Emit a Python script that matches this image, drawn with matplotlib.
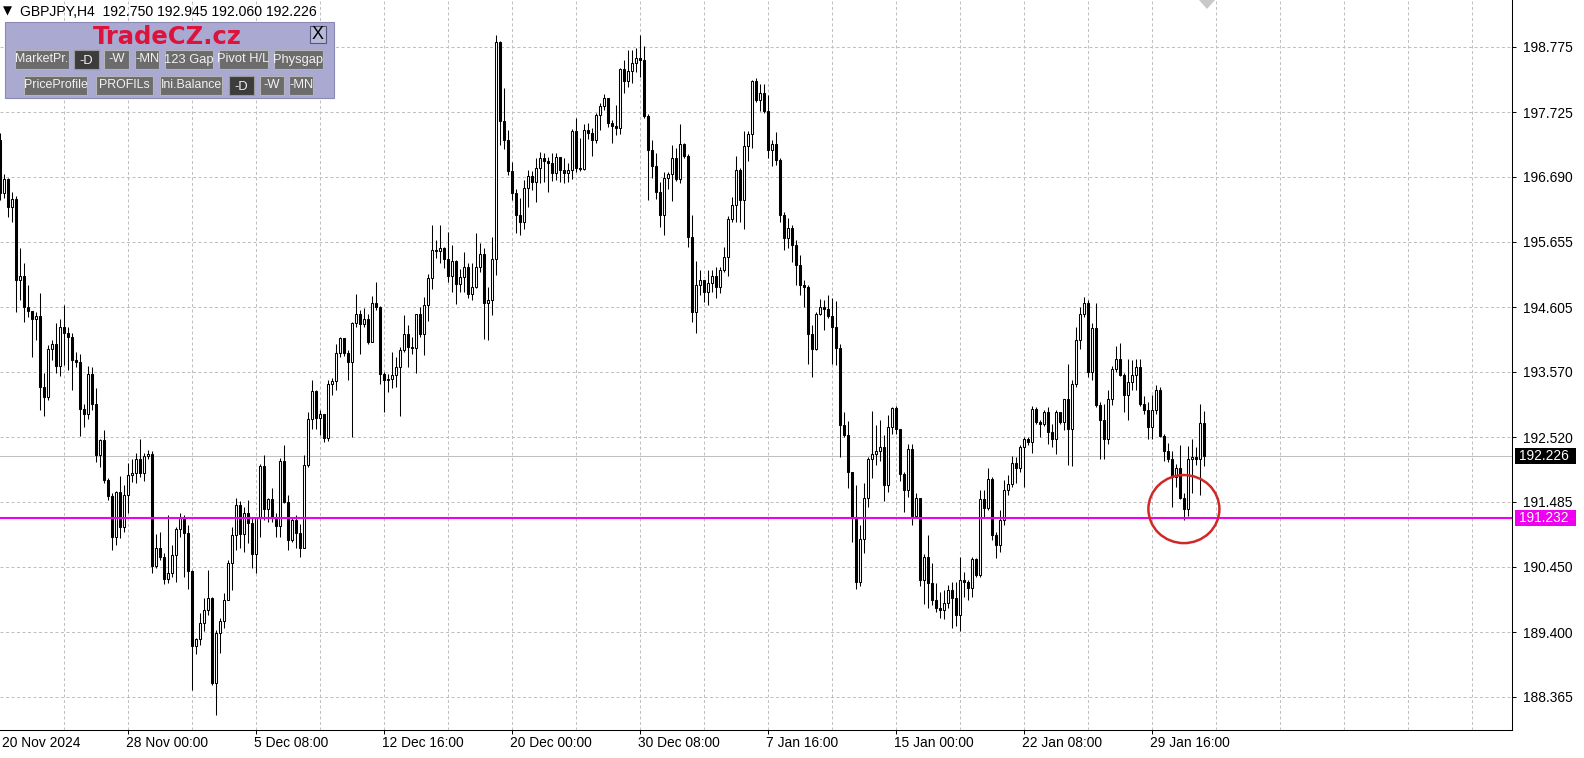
import numpy as np
import matplotlib.pyplot as plt
from matplotlib.patches import Rectangle, Ellipse, Polygon
from matplotlib.transforms import blended_transform_factory

plt.rcParams['font.family'] = ['Liberation Sans', 'DejaVu Sans']

symbol = 'GBPJPY,H4'

# H4 candles, oldest first (open of each bar = previous close)
first_open = 197.28
close = [
    196.43,
    196.65, 196.21, 196.33, 195.04, 195.10, 194.60, 194.55, 194.42, 194.46, 193.32,
    193.16, 193.93, 194.01, 193.66, 194.29, 194.19, 194.13, 193.75, 193.73, 192.98,
    192.89, 193.53, 193.05, 192.24, 192.47, 191.84, 191.58, 190.93, 191.65, 191.09,
    191.60, 191.92, 191.94, 192.17, 191.95, 192.22, 192.26, 190.46, 190.74, 190.60,
    190.25, 190.35, 190.63, 191.05, 191.22, 190.99, 190.38, 189.17, 189.29, 189.54,
    189.75, 189.94, 188.59, 189.38, 189.58, 189.92, 190.50, 190.96, 191.44, 190.97,
    191.30, 191.14, 190.65, 191.22, 192.06, 191.37, 191.53, 191.23, 191.10, 192.14,
    191.49, 190.88, 191.20, 190.98, 190.75, 192.07, 192.81, 193.26, 192.83, 192.89,
    192.51, 193.37, 193.42, 193.87, 194.11, 193.87, 193.73, 194.35, 194.50, 194.33,
    194.41, 194.05, 194.67, 194.61, 193.53, 193.43, 193.46, 193.52, 193.65, 193.92,
    194.17, 193.97, 193.95, 194.49, 194.17, 194.64, 195.07, 195.52, 195.51, 195.55,
    195.37, 195.11, 195.34, 194.97, 195.08, 195.24, 194.81, 194.93, 195.25, 195.45,
    194.67, 194.72, 195.37, 198.85, 197.59, 197.28, 196.78, 196.44, 196.08, 195.96,
    196.51, 196.71, 196.61, 196.83, 197.00, 196.94, 196.91, 196.76, 197.01, 196.80,
    196.75, 196.80, 197.42, 196.84, 196.82, 197.44, 197.40, 197.28, 197.68, 197.83,
    197.95, 197.55, 197.51, 197.48, 198.42, 198.23, 198.39, 198.51, 198.60, 198.56,
    197.67, 197.12, 196.87, 196.45, 196.08, 196.67, 196.73, 197.00, 196.66, 197.21,
    197.03, 195.72, 194.53, 194.96, 195.04, 194.85, 194.99, 195.11, 194.93, 195.20,
    195.41, 196.02, 196.24, 196.80, 196.32, 197.19, 197.37, 198.22, 197.92, 198.03,
    197.75, 197.12, 197.21, 196.96, 196.08, 195.71, 195.87, 195.60, 195.28, 194.96,
    194.92, 194.17, 193.93, 194.50, 194.60, 194.57, 194.47, 194.29, 193.95, 192.72,
    192.55, 191.96, 191.22, 190.21, 190.89, 191.54, 192.17, 192.26, 192.30, 192.36,
    191.76, 192.69, 192.99, 192.65, 191.93, 191.68, 192.34, 191.26, 191.55, 190.23,
    190.61, 190.19, 189.91, 189.79, 189.75, 189.87, 190.07, 189.95, 189.67, 190.23,
    190.21, 190.11, 190.57, 190.31, 191.53, 191.39, 191.85, 190.96, 190.80, 191.20,
    191.68, 191.77, 192.11, 192.03, 192.37, 192.49, 192.45, 192.98, 192.77, 192.73,
    192.93, 192.61, 192.50, 192.92, 192.77, 193.13, 192.65, 193.37, 194.07, 194.50,
    194.67, 193.57, 194.27, 193.04, 192.80, 192.49, 193.13, 193.61, 193.78, 193.52,
    193.20, 193.41, 193.52, 193.65, 193.06, 192.95, 192.69, 192.95, 193.28, 192.54,
    192.30, 192.18, 191.89, 192.02, 191.54, 191.37, 192.18, 192.21, 192.17, 192.750,
    192.226,
]
high = [
    197.39,
    196.74, 196.68, 196.45, 196.38, 195.55, 195.31, 194.96, 194.53, 194.52, 194.83,
    193.55, 194.00, 194.08, 194.35, 194.41, 194.64, 194.29, 194.19, 193.89, 193.86,
    193.06, 193.66, 193.65, 193.31, 192.49, 192.64, 191.86, 191.62, 191.66, 191.90,
    191.76, 192.11, 192.17, 192.27, 192.49, 192.27, 192.32, 192.30, 190.97, 191.01,
    190.66, 191.28, 190.80, 191.09, 191.31, 191.28, 191.12, 190.39, 189.30, 189.71,
    189.94, 190.39, 189.97, 189.43, 189.62, 190.02, 190.55, 191.09, 191.54, 191.50,
    191.41, 191.52, 191.22, 191.25, 192.10, 192.24, 191.55, 191.71, 191.30, 192.19,
    192.40, 191.60, 191.22, 191.28, 191.13, 192.24, 192.93, 193.44, 193.28, 192.96,
    192.90, 193.44, 193.47, 194.01, 194.13, 193.97, 193.91, 194.37, 194.81, 194.56,
    194.59, 194.49, 194.78, 195.01, 194.62, 193.57, 193.53, 193.89, 193.80, 193.97,
    194.48, 194.32, 194.13, 194.50, 194.60, 194.76, 195.13, 195.92, 195.68, 195.92,
    195.57, 195.81, 195.60, 195.36, 195.21, 195.48, 195.31, 195.31, 195.79, 195.63,
    195.55, 194.93, 195.73, 198.96, 198.86, 198.11, 197.44, 196.93, 196.50, 196.35,
    196.64, 196.80, 196.78, 197.00, 197.09, 197.08, 197.01, 197.07, 197.07, 197.00,
    196.99, 196.91, 197.46, 197.63, 197.32, 197.53, 197.56, 197.47, 197.71, 197.87,
    198.01, 197.89, 197.60, 197.84, 198.43, 198.56, 198.72, 198.72, 198.75, 198.96,
    198.78, 197.69, 197.28, 197.07, 196.61, 196.77, 196.77, 197.20, 197.16, 197.53,
    197.23, 197.05, 196.08, 195.34, 195.20, 195.04, 195.20, 195.20, 195.25, 195.25,
    195.57, 196.07, 196.37, 197.03, 196.83, 197.42, 197.42, 198.24, 198.27, 198.17,
    198.17, 198.00, 197.28, 197.41, 196.99, 196.13, 196.03, 195.92, 195.68, 195.44,
    195.04, 194.96, 194.32, 194.53, 194.73, 194.72, 194.80, 194.75, 194.70, 194.01,
    192.93, 192.78, 191.97, 191.76, 191.12, 191.78, 192.21, 192.94, 192.71, 192.80,
    192.56, 192.88, 193.01, 193.02, 192.66, 191.97, 192.42, 192.41, 191.62, 191.44,
    190.65, 190.96, 190.51, 190.19, 190.05, 190.07, 190.15, 190.20, 190.21, 190.61,
    190.37, 190.23, 190.61, 190.59, 191.68, 191.68, 192.03, 191.89, 191.00, 191.36,
    191.84, 191.92, 192.22, 192.21, 192.40, 192.53, 192.53, 193.02, 193.01, 192.80,
    192.95, 193.01, 192.74, 192.96, 192.93, 193.14, 193.70, 193.44, 194.28, 194.61,
    194.76, 194.72, 194.35, 194.67, 193.09, 193.05, 193.28, 193.66, 193.98, 194.03,
    193.55, 193.78, 193.76, 193.77, 193.77, 193.18, 193.09, 193.20, 193.36, 193.32,
    192.58, 192.43, 192.30, 192.10, 192.40, 191.62, 192.38, 192.50, 192.36, 193.05,
    192.945,
]
low = [
    196.32,
    196.36, 196.04, 195.97, 194.53, 194.72, 194.37, 194.45, 193.80, 194.07, 192.96,
    192.86, 193.12, 193.76, 193.55, 193.50, 193.68, 193.59, 193.27, 193.65, 192.54,
    192.69, 192.81, 192.96, 192.13, 192.05, 191.78, 191.52, 190.72, 190.80, 190.90,
    191.01, 191.30, 191.81, 191.78, 191.89, 191.82, 192.18, 190.34, 190.42, 190.55,
    190.17, 190.18, 190.29, 190.21, 190.93, 190.28, 190.09, 188.48, 189.05, 189.19,
    189.41, 189.67, 188.55, 188.07, 189.07, 189.46, 190.06, 190.07, 190.72, 190.74,
    190.69, 190.82, 190.43, 190.34, 190.93, 191.20, 191.16, 191.16, 190.93, 190.93,
    191.46, 190.72, 190.85, 190.74, 190.61, 190.74, 192.05, 192.66, 192.66, 192.56,
    192.45, 192.46, 193.19, 193.27, 193.80, 193.82, 193.43, 192.53, 194.29, 193.85,
    194.29, 194.01, 194.04, 194.56, 193.38, 192.93, 193.25, 193.31, 193.33, 192.86,
    193.89, 193.65, 193.85, 193.55, 194.13, 193.84, 194.39, 194.89, 195.39, 195.31,
    195.23, 195.01, 194.84, 194.66, 194.85, 194.85, 194.75, 194.72, 194.91, 195.17,
    194.09, 194.08, 194.48, 195.12, 197.20, 197.14, 196.72, 196.32, 195.79, 195.76,
    195.86, 196.20, 196.48, 196.28, 196.59, 196.61, 196.45, 196.62, 196.64, 196.61,
    196.60, 196.61, 196.66, 196.77, 196.78, 196.80, 197.30, 197.03, 197.24, 197.44,
    197.76, 197.49, 197.23, 197.36, 197.37, 198.03, 198.13, 198.20, 198.37, 198.29,
    197.63, 196.32, 196.67, 196.34, 195.89, 195.76, 196.50, 196.30, 196.62, 196.59,
    196.99, 195.56, 194.37, 194.19, 194.80, 194.69, 194.64, 194.85, 194.75, 194.83,
    195.16, 195.11, 195.96, 195.97, 195.96, 195.86, 196.94, 197.16, 197.89, 197.75,
    197.72, 196.99, 196.87, 196.88, 195.97, 195.52, 195.55, 195.33, 194.96, 194.80,
    194.60, 193.69, 193.49, 193.92, 194.48, 194.24, 194.43, 193.70, 193.68, 192.21,
    192.53, 191.71, 190.85, 190.09, 190.14, 190.66, 191.41, 191.87, 192.07, 192.14,
    191.50, 191.65, 192.57, 192.57, 191.82, 191.32, 191.57, 191.12, 191.23, 190.14,
    189.85, 189.79, 189.83, 189.72, 189.63, 189.61, 189.78, 189.46, 189.49, 189.42,
    189.97, 189.91, 189.97, 190.29, 190.29, 191.25, 191.36, 190.88, 190.59, 190.68,
    191.12, 191.60, 191.73, 191.78, 191.97, 191.72, 192.40, 192.27, 192.74, 192.53,
    192.70, 192.41, 192.37, 192.26, 192.74, 192.64, 192.08, 192.06, 193.33, 193.94,
    194.45, 193.49, 193.44, 193.01, 192.17, 192.18, 192.42, 193.04, 193.57, 193.50,
    192.93, 192.79, 193.27, 193.28, 193.02, 192.90, 192.50, 192.50, 192.90, 192.52,
    192.14, 192.13, 191.41, 191.73, 191.53, 191.20, 191.26, 191.62, 192.08, 191.60,
    192.060,
]

level = 191.232  # magenta horizontal line
price_ticks = [198.775, 197.725, 196.690, 195.655, 194.605, 193.570,
               192.520, 191.485, 190.450, 189.400, 188.365]
date_labels = ['20 Nov 2024', '28 Nov 00:00', '5 Dec 08:00', '12 Dec 16:00',
               '20 Dec 00:00', '30 Dec 08:00', '7 Jan 16:00', '15 Jan 00:00',
               '22 Jan 08:00', '29 Jan 16:00']
date_bars = [0.75, 32, 64, 96, 128, 160, 192, 224, 256, 288]
buttons_row1 = ['MarketPr.', '-D', '-W', '-MN', '123 Gap', 'Pivot H/L', 'Physgap']
buttons_row2 = ['PriceProfile', 'PROFILs', 'Ini.Balance', '-D', '-W', '-MN']
active_row1 = ['-D']
active_row2 = ['-D']

W, H = 1584, 758
fig = plt.figure(figsize=(W / 100, H / 100), dpi=100)
fig.patch.set_facecolor('white')


def fx(px):
    return px / W


def fy(py):
    return 1 - py / H


ax_bottom = 729.5
ax = fig.add_axes([0, fy(ax_bottom), 1512 / W, ax_bottom / H])

c = np.array(close)
o = np.r_[first_open, c[:-1]]
hi = np.maximum(np.array(high), np.maximum(o, c))
lo = np.minimum(np.array(low), np.minimum(o, c))
x = np.arange(len(c))

grid_c = '#c0c0c0'
for p in price_ticks:
    ax.axhline(p, color=grid_c, lw=0.72, ls=(0, (3, 2.5)), zorder=0)
for k in range(16, 378, 16):
    ax.axvline(k, color=grid_c, lw=0.72, ls=(0, (3, 2.5)), zorder=0)

ax.axhline(c[-1], color='#c0c0c0', lw=0.75, zorder=1)

ax.vlines(x, lo, hi, color='black', lw=0.75, zorder=2)
up = c >= o
bot = np.minimum(o, c)
ht = np.maximum(np.abs(c - o), 0.004)
ax.bar(x[up], ht[up], bottom=bot[up], width=0.5, facecolor='white',
       edgecolor='black', lw=0.75, zorder=3)
ax.bar(x[~up], ht[~up], bottom=bot[~up], width=0.5, facecolor='black',
       edgecolor='black', lw=0.75, zorder=3)

ax.axhline(level, color='#f000f0', lw=1.5, zorder=4)

# red circle around the touch of the level
ax.add_patch(Ellipse((296.1, 191.37), 17.75, 1.09, fill=False,
                     edgecolor='#d02828', lw=1.8, zorder=5))

ax.set_xlim(0.125, 378.125)
ax.set_ylim(187.84, 199.523)

for s in ['left', 'top']:
    ax.spines[s].set_visible(False)
for s in ['right', 'bottom']:
    ax.spines[s].set_linewidth(0.75)

ax.yaxis.tick_right()
ax.set_yticks(price_ticks)
ax.set_yticklabels([f'{p:.3f}' for p in price_ticks])
ax.tick_params(axis='y', direction='out', length=3, width=0.7, pad=5,
               labelsize=9.9, colors='black')
ax.set_xticks(date_bars[1:])
ax.set_xticklabels([])
ax.tick_params(axis='x', direction='out', length=3, width=0.7)

trans_xd = blended_transform_factory(ax.transData, ax.transAxes)
for lab, b in zip(date_labels, date_bars):
    ax.text(b - 0.25, -(743 - ax_bottom) / ax_bottom, lab, transform=trans_xd,
            ha='left', va='center', fontsize=9.9, clip_on=False)

# price boxes on the right scale
trans_ad = blended_transform_factory(ax.transAxes, ax.transData)
dh = 8 * 0.016015
for val, col in [(c[-1], 'black'), (level, '#f000f0')]:
    ax.add_patch(Rectangle((1515 / 1512, val - dh), 61 / 1512, 2 * dh,
                           transform=trans_ad, facecolor=col, edgecolor='none',
                           clip_on=False, zorder=6))
    ax.text(1519 / 1512, val, f'{val:.3f}', transform=trans_ad, color='white',
            ha='left', va='center', fontsize=9.9, clip_on=False, zorder=7)

# shift marker at the top
fig.patches.append(Polygon([(fx(1199), fy(0)), (fx(1215), fy(0)), (fx(1207), fy(9))],
                           closed=True, transform=fig.transFigure,
                           facecolor='#c8c8c8', edgecolor='none'))

# header line
fig.text(fx(3), fy(11.5), '\u25bc', fontsize=8.5, va='center', ha='left',
         family=['DejaVu Sans'])
fig.text(fx(20), fy(12), f'{symbol}  {o[-1]:.3f} {hi[-1]:.3f} {lo[-1]:.3f} {c[-1]:.3f}',
         fontsize=10.1, va='center', ha='left')


def box(x0, y0, x1, y1, **kw):
    fig.patches.append(Rectangle((fx(x0), fy(y1)), fx(x1) - fx(x0), fy(y0) - fy(y1),
                                 transform=fig.transFigure, **kw))


# indicator panel
box(5, 22, 334, 98, facecolor='#a9a9d1', edgecolor='#8a8ab4', lw=0.8)
fig.text(fx(167), fy(36.5), 'TradeCZ.cz', color='#dc143c', fontsize=17.5,
         fontweight='bold', ha='center', va='center', family=['DejaVu Sans'])
box(310, 26, 326, 43, facecolor='#b9b9d9', edgecolor='#55557a', lw=0.8)
fig.text(fx(318), fy(34.5), 'X', fontsize=13, ha='center', va='center')

row1_x = [(15, 69), (74, 99), (104, 129), (135, 159), (165, 213), (219, 268), (274, 323)]
row2_x = [(24, 87), (96, 153), (160, 222), (229, 254), (260, 284), (289, 313)]
for labels, xs, act, (y0, y1) in [(buttons_row1, row1_x, active_row1, (50, 69)),
                                  (buttons_row2, row2_x, active_row2, (76, 95))]:
    for i, (lab, (x0, x1)) in enumerate(zip(labels, xs)):
        dark = lab in act and i == labels.index(lab)
        box(x0, y0, x1, y1, facecolor='#3c3c3c' if dark else '#6c6c6c',
            edgecolor='#9a9a9a' if dark else '#b4b4b4', lw=0.8)
        fs = 8.9 if x1 - x0 > 50 else 9.3
        fig.text(fx((x0 + x1) / 2), fy((y0 + y1) / 2 + (1.5 if dark else 0)), lab,
                 color='#f2f2f2', fontsize=fs, ha='center', va='center')

fig.savefig('out.png', dpi=100)
